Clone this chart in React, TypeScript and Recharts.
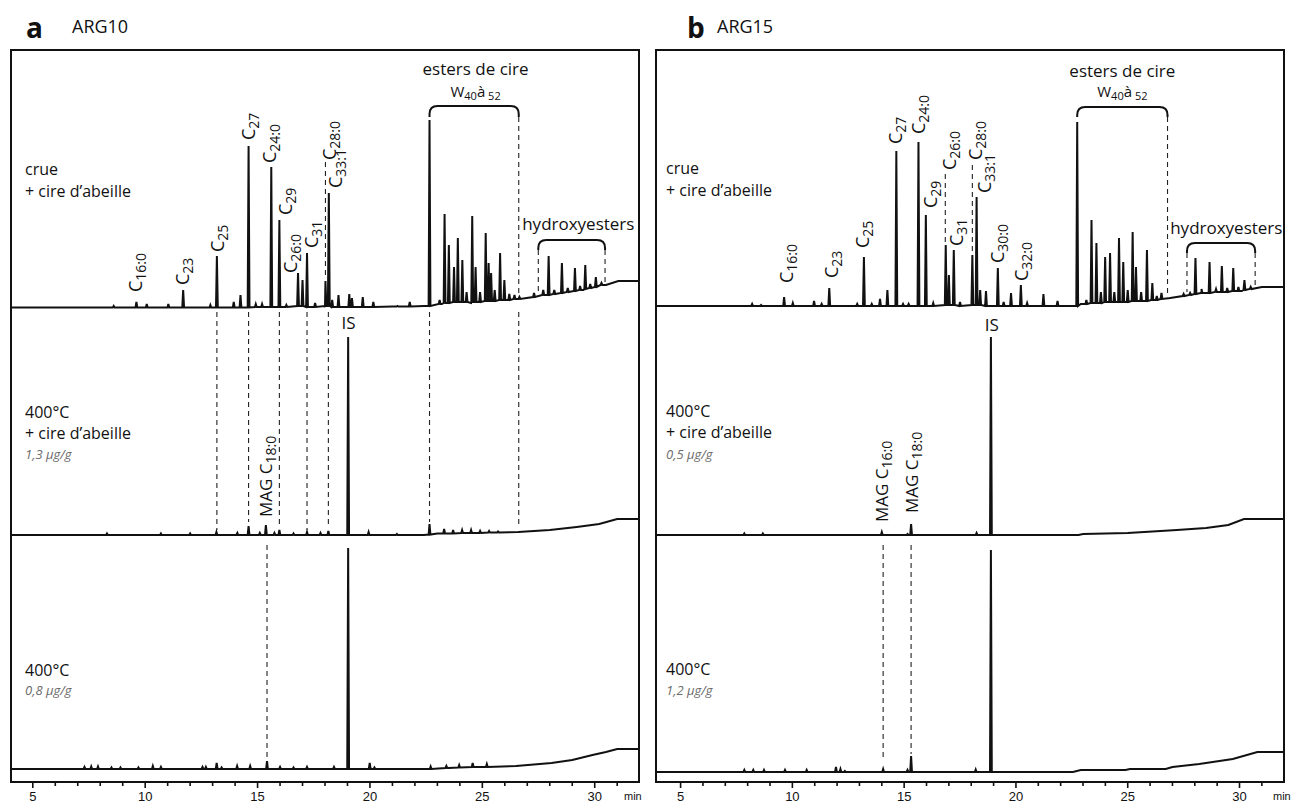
import React from 'react';
import { LineChart, Line, XAxis, YAxis, ReferenceLine, ReferenceArea, ReferenceDot } from 'recharts';

const FONT = '"Open Sans", "Noto Sans", sans-serif';
const INK = '#111';

// ---------- Axis ----------
const minuteTicks = [5, 6, 7, 8, 9, 10, 11, 12, 13, 14, 15, 16, 17, 18, 19, 20, 21, 22, 23, 24, 25, 26, 27, 28, 29, 30, 31];
const domainA: [number, number] = [4.03, 31.97];
const domainB: [number, number] = [3.9, 31.99];

// ---------- Panel a (ARG10) ----------
// trace 1: crue + cire d'abeille  [t, level]
const aRawBase = [[4.03, 4.5], [12, 4.5], [18, 5], [21, 5.5], [22.4, 6], [23.2, 8], [24.5, 9], [25.5, 11], [26.6, 13], [27.5, 16], [28.5, 19], [29.5, 22], [30.5, 27], [31.05, 31], [31.97, 31]];
// peaks [t, apex, foot]
const aRawPeaks = [[8.6, 6, 4.5], [9.61, 10, 4.5], [10.07, 8, 4.5], [11.03, 8, 4.5], [11.69, 22, 4.5], [12.9, 7, 4.5], [13.19, 56, 4.5], [13.94, 10, 4.5], [14.24, 17, 4.5], [14.6, 166, 4.5], [14.92, 8, 5], [15.2, 8, 5], [15.61, 145, 5], [15.97, 92, 5], [16.28, 7, 5], [16.8, 39, 6], [17.0, 32, 6], [17.2, 59, 5], [17.56, 9, 5], [18.02, 31, 6], [18.17, 119, 6], [18.32, 12, 5], [18.6, 17, 5], [19.08, 18, 5], [19.2, 14, 5], [19.68, 15, 5], [20.15, 10, 5], [21.22, 6, 5.5], [21.77, 10, 5.5], [22.65, 192, 6], [23.1, 12, 8], [23.32, 98, 9], [23.51, 67, 9], [23.74, 45, 10], [23.91, 74, 10], [24.11, 52, 10], [24.3, 20, 10], [24.55, 96, 10], [24.7, 45, 10], [24.9, 20, 10], [25.15, 79, 11], [25.28, 49, 11], [25.39, 39, 11], [25.55, 22, 11], [25.79, 59, 12], [25.98, 32, 12], [26.2, 18, 12], [26.43, 17, 13], [26.65, 15, 13], [27.3, 19, 15], [27.71, 22, 17], [27.95, 56, 17], [28.2, 22, 18], [28.54, 49, 19], [28.8, 24, 20], [29.12, 44, 21], [29.35, 26, 22], [29.58, 47, 23], [29.8, 28, 24], [30.05, 35, 25], [30.3, 29, 27]];
const aRawLabels = [
  { t: 9.61, v: 20, main: 'C', sub: '16:0' }, { t: 11.69, v: 27, main: 'C', sub: '23' }, { t: 13.25, v: 60, main: 'C', sub: '25' },
  { t: 14.6, v: 172, main: 'C', sub: '27' }, { t: 15.55, v: 149, main: 'C', sub: '24:0' }, { t: 16.25, v: 97, main: 'C', sub: '29' },
  { t: 16.5, v: 39, main: 'C', sub: '26:0' }, { t: 17.4, v: 64, main: 'C', sub: '31' }, { t: 18.22, v: 152, main: 'C', sub: '28:0' },
  { t: 18.5, v: 124, main: 'C', sub: '33:1' },
];
const aRawDashes = [[18.02, 150, 34], [26.62, 195, 14], [27.49, 62, 20], [30.46, 62, 30]];
const aRawBrackets = [[22.65, 26.62, 195, 206], [27.49, 30.46, 62, 72]];
const aRawNotes = [{ t: 24.7, v: 244, text: 'esters de cire' }, { t: 29.27, v: 89, text: 'hydroxyesters' }];
const aRangeNote = { t: 24.7, v: 220 };

// trace 2: 400°C + cire d'abeille
const aWaxBase = [[4.03, 5], [22.4, 5], [23, 6.5], [26.6, 8], [28, 10], [29.2, 13], [30.2, 16], [31.0, 21], [31.97, 21]];
const aWaxPeaks = [[8.3, 6.5, 5], [10.7, 6.5, 5], [12.0, 6.5, 5], [13.17, 8, 5], [14.1, 7, 5], [14.6, 14, 5], [15.1, 7, 5], [15.37, 15, 5], [15.75, 7, 5], [15.97, 10, 5], [16.6, 6.5, 5], [17.2, 8, 5], [17.8, 7, 5], [18.15, 9, 5], [19.03, 203, 5], [19.94, 8, 5], [21.2, 6, 5], [22.65, 16, 5.5], [23.3, 11, 6.5], [23.7, 10, 6.5], [24.1, 10, 7], [24.5, 10, 7], [24.9, 9, 7], [25.3, 9, 7.5], [25.7, 8.5, 7.5]];
const aWaxLabels = [{ t: 15.37, v: 23, main: 'MAG C', sub: '18:0' }];
const aWaxDashes = [[13.19, 228, 10], [14.6, 228, 18], [15.97, 228, 12], [17.2, 228, 10], [18.15, 228, 13], [22.65, 228, 18], [26.62, 228, 12]];
const aWaxNotes = [{ t: 19.05, v: 218, text: 'IS' }];

// trace 3: 400°C
const aHeatBase = [[4.03, 13], [21.9, 13], [23.5, 14], [25.15, 15], [26.5, 16], [28.08, 19], [29.0, 22], [29.9, 27], [30.5, 30], [31.0, 33], [31.97, 33]];
const aHeatPeaks = [[7.3, 15, 13], [7.6, 15.5, 13], [7.9, 15.5, 13], [8.5, 14.5, 13], [8.9, 14.5, 13], [9.7, 14.5, 13], [10.34, 16, 13], [10.7, 15, 13], [12.55, 15, 13], [12.7, 15, 13], [13.18, 19, 13], [13.4, 14.5, 13], [14.09, 16, 13], [14.67, 16, 13], [15.42, 21, 13], [16.0, 15, 13], [16.6, 14.5, 13], [17.2, 15, 13], [18.4, 15, 13], [19.03, 234, 13], [19.99, 19, 13], [20.2, 14.5, 13], [22.7, 15.5, 13], [23.4, 16, 14], [23.97, 17, 14.5], [24.57, 19, 15], [25.2, 18, 15]];
const aHeatDashes = [[15.42, 237, 23]];

// ---------- Panel b (ARG15) ----------
const bRawBase = [[3.9, 6], [22.4, 6], [22.9, 8], [24.5, 10], [25.5, 11], [26.9, 14], [28.3, 19], [30.1, 21], [31.0, 25], [31.99, 25]];
const bRawPeaks = [[8.2, 8, 6], [8.6, 7, 6], [9.63, 15, 6], [10.02, 9, 6], [10.97, 11, 6], [11.31, 8, 6], [11.65, 24, 6], [12.9, 8, 6], [13.2, 55, 6], [13.55, 8, 6], [13.92, 13, 6], [14.25, 22, 6], [14.65, 161, 6], [14.95, 8, 6], [15.2, 8, 6], [15.64, 170, 6], [15.97, 97, 6], [16.3, 9, 6], [16.86, 67, 7], [17.0, 37, 7], [17.22, 62, 7], [17.5, 10, 6], [18.05, 57, 7], [18.24, 115, 7], [18.4, 22, 7], [18.66, 21, 6], [19.19, 44, 6], [19.45, 10, 6], [19.78, 19, 6], [20.22, 27, 6], [20.5, 9, 6], [21.23, 18, 6], [21.86, 11, 6], [22.74, 190, 6], [23.15, 12, 8], [23.38, 92, 9], [23.6, 69, 9], [23.8, 20, 9], [23.99, 55, 10], [24.21, 59, 10], [24.4, 20, 10], [24.61, 74, 10], [24.8, 50, 10], [25.0, 22, 10], [25.22, 80, 11], [25.37, 45, 11], [25.6, 20, 11], [25.86, 62, 11], [26.1, 29, 12], [26.3, 16, 12], [26.51, 19, 13], [27.5, 18, 16], [27.79, 19, 17], [28.03, 54, 18], [28.3, 23, 19], [28.66, 50, 19], [28.95, 23, 20], [29.21, 46, 20], [29.45, 24, 20], [29.72, 44, 21], [29.95, 25, 21], [30.22, 32, 22], [30.5, 25, 23]];
const bRawLabels = [
  { t: 9.75, v: 29, main: 'C', sub: '16:0' }, { t: 11.75, v: 34, main: 'C', sub: '23' }, { t: 13.15, v: 64, main: 'C', sub: '25' },
  { t: 14.63, v: 168, main: 'C', sub: '27' }, { t: 15.68, v: 178, main: 'C', sub: '24:0' }, { t: 16.18, v: 104, main: 'C', sub: '29' },
  { t: 17.03, v: 142, main: 'C', sub: '26:0' }, { t: 17.38, v: 66, main: 'C', sub: '31' }, { t: 18.2, v: 152, main: 'C', sub: '28:0' },
  { t: 18.62, v: 119, main: 'C', sub: '33:1' }, { t: 19.2, v: 49, main: 'C', sub: '30:0' }, { t: 20.25, v: 31, main: 'C', sub: '32:0' },
];
const bRawDashes = [[16.84, 138, 70], [18.05, 147, 60], [26.78, 195, 16], [27.65, 59, 20], [30.7, 59, 25]];
const bRawBrackets = [[22.74, 26.78, 195, 205], [27.65, 30.7, 59, 69]];
const bRawNotes = [{ t: 24.76, v: 242, text: 'esters de cire' }, { t: 29.41, v: 85, text: 'hydroxyesters' }];
const bRangeNote = { t: 24.76, v: 220 };

const bWaxBase = [[3.9, 5], [22.8, 5], [23.0, 6], [25.0, 7], [27.2, 10], [28.5, 12], [29.5, 15], [30.2, 21], [31.99, 21]];
const bWaxPeaks = [[7.85, 6.5, 5], [8.68, 6.5, 5], [14.0, 8, 5], [15.15, 6, 5], [15.31, 16, 5], [18.24, 7, 5], [18.88, 203, 5]];
const bWaxLabels = [{ t: 14.0, v: 18, main: 'MAG C', sub: '16:0' }, { t: 15.35, v: 27, main: 'MAG C', sub: '18:0' }];
const bWaxNotes = [{ t: 18.92, v: 216, text: 'IS' }];

const bHeatBase = [[3.9, 10], [22.55, 10], [22.9, 12], [24.9, 12], [25.1, 13], [26.7, 13], [27.0, 15], [28.2, 18], [29.7, 23], [30.8, 30], [31.99, 30]];
const bHeatPeaks = [[7.85, 12, 10], [8.25, 12, 10], [8.73, 12, 10], [9.67, 12, 10], [10.64, 12, 10], [11.95, 15, 10], [12.15, 13, 10], [12.35, 11, 10], [14.06, 13, 10], [15.15, 12, 10], [15.31, 26, 10], [18.2, 12.5, 10], [18.88, 232, 10]];
const bHeatDashes = [[14.06, 237, 24], [15.31, 237, 28]];

// ---------- helpers ----------
type Pt = { t: number; v: number };
function buildTrace(base: number[][], peaks: number[][]): Pt[] {
  const half = 0.04;
  const pts: Pt[] = [];
  base.forEach(([t, v]) => pts.push({ t, v }));
  peaks.forEach(([t, top, foot]) => {
    pts.push({ t: t - half, v: foot });
    pts.push({ t, v: top });
    pts.push({ t: t + half, v: foot });
  });
  pts.sort((p, q) => p.t - q.t);
  return pts;
}

const rotLabel = (main: string, sub: string) => (p: any) => (
  <text transform={`rotate(-90 ${p.cx + 6} ${p.cy})`} x={p.cx + 6} y={p.cy} fontFamily={FONT} fontSize={main.length > 1 ? 17 : 18} fill={INK}>
    <tspan>{main}</tspan>
    <tspan fontSize={14} dy={4}>{sub}</tspan>
  </text>
);

const hText = (text: string, size: number) => (p: any) => (
  <text x={p.cx} y={p.cy} textAnchor="middle" dominantBaseline="central" fontFamily={FONT} fontSize={size} fill={INK}>{text}</text>
);

const rangeText = (p: any) => (
  <text x={p.cx} y={p.cy + 5} textAnchor="middle" fontFamily={FONT} fontSize={15} fill={INK}>
    <tspan>W</tspan>
    <tspan fontSize={11} dy={3}>40</tspan>
    <tspan fontSize={15} dy={-3}>à</tspan>
    <tspan fontSize={11} dy={3}> 52</tspan>
  </text>
);

const bracketShape = (p: any) => {
  const { x, y, width: w, height: h } = p;
  const r = 8;
  const d = `M${x},${y + h} L${x},${y + r} Q${x},${y} ${x + r},${y} L${x + w - r},${y} Q${x + w},${y} ${x + w},${y + r} L${x + w},${y + h}`;
  return <path d={d} fill="none" stroke={INK} strokeWidth={2} />;
};

const AxisTick = (props: any) => {
  const { x, y, payload } = props;
  const major = payload.value % 5 === 0;
  return (
    <g>
      <line x1={x} x2={x} y1={y} y2={y + (major ? 6 : 4)} stroke={INK} strokeWidth={1.6} />
      {major && (
        <text x={x} y={y + 19} textAnchor="middle" fontSize={13} fontFamily='"Liberation Sans Narrow", "Liberation Sans", Arial, sans-serif' fill={INK}>{payload.value}</text>
      )}
    </g>
  );
};

const PLOT_W = 628;

type TraceProps = {
  base: number[][];
  peaks: number[][];
  domain: [number, number];
  height: number;
  yMax: number;
  axis?: boolean;
  dashes?: number[][];
  brackets?: number[][];
  labels?: { t: number; v: number; main: string; sub: string }[];
  notes?: { t: number; v: number; text: string }[];
  range?: { t: number; v: number };
};

function Trace({ base, peaks, domain, height, yMax, axis, dashes = [], brackets = [], labels = [], notes = [], range }: TraceProps) {
  const data = buildTrace(base, peaks);
  return (
    <LineChart width={PLOT_W} height={height} data={data} margin={{ top: 0, right: 0, bottom: 0, left: 0 }}>
      <XAxis
        type="number"
        dataKey="t"
        domain={domain}
        allowDataOverflow
        hide={!axis}
        ticks={minuteTicks}
        interval={0}
        axisLine={false}
        tickLine={false}
        tickSize={0}
        tickMargin={0}
        height={axis ? 23 : 0}
        tick={<AxisTick />}
      />
      <YAxis type="number" domain={[0, yMax]} hide allowDataOverflow />
      {dashes.map(([t, v1, v2], i) => (
        <ReferenceLine key={'d' + i} segment={[{ x: t, y: v1 }, { x: t, y: v2 }]} stroke="#222" strokeWidth={1.1} strokeDasharray="5 4" ifOverflow="visible" />
      ))}
      {brackets.map(([x1, x2, y1, y2], i) => (
        <ReferenceArea key={'b' + i} x1={x1} x2={x2} y1={y1} y2={y2} shape={bracketShape} ifOverflow="visible" />
      ))}
      <Line type="linear" dataKey="v" stroke={INK} strokeWidth={2} dot={false} isAnimationActive={false} />
      {labels.map((l, i) => (
        <ReferenceDot key={'l' + i} x={l.t} y={l.v} r={0} shape={rotLabel(l.main, l.sub)} ifOverflow="visible" />
      ))}
      {notes.map((n, i) => (
        <ReferenceDot key={'n' + i} x={n.t} y={n.v} r={0} shape={hText(n.text, 17)} ifOverflow="visible" />
      ))}
      {range && <ReferenceDot x={range.t} y={range.v} r={0} shape={rangeText} ifOverflow="visible" />}
    </LineChart>
  );
}

const abs = (left: number, top: number): React.CSSProperties => ({ position: 'absolute', left, top });

function Panel({ left, domain, raw, wax, heat }: any) {
  return (
    <>
      <div style={abs(left, 50)}>
        <Trace domain={domain} height={262} yMax={262} {...raw} />
      </div>
      <div style={abs(left, 312)}>
        <Trace domain={domain} height={228} yMax={228} {...wax} />
      </div>
      <div style={abs(left, 540)}>
        <Trace domain={domain} height={265} yMax={242} axis {...heat} />
      </div>
      <div style={{ position: 'absolute', left: left - 1, top: 49, width: PLOT_W + 2, height: 734, border: `2px solid ${INK}`, boxSizing: 'border-box', pointerEvents: 'none' }} />
    </>
  );
}

export default function App() {
  const txt = { fontFamily: FONT, fill: INK } as any;
  const note = { fontFamily: FONT, fill: '#6b6b6b', fontStyle: 'italic' } as any;
  return (
    <div style={{ position: 'absolute', left: 0, top: 0, width: 1291, height: 805, background: '#fff', overflow: 'hidden' }}>
      <Panel
        left={11}
        domain={domainA}
        raw={{ base: aRawBase, peaks: aRawPeaks, labels: aRawLabels, dashes: aRawDashes, brackets: aRawBrackets, notes: aRawNotes, range: aRangeNote }}
        wax={{ base: aWaxBase, peaks: aWaxPeaks, labels: aWaxLabels, dashes: aWaxDashes, notes: aWaxNotes }}
        heat={{ base: aHeatBase, peaks: aHeatPeaks, dashes: aHeatDashes }}
      />
      <Panel
        left={656}
        domain={domainB}
        raw={{ base: bRawBase, peaks: bRawPeaks, labels: bRawLabels, dashes: bRawDashes, brackets: bRawBrackets, notes: bRawNotes, range: bRangeNote }}
        wax={{ base: bWaxBase, peaks: bWaxPeaks, labels: bWaxLabels, notes: bWaxNotes }}
        heat={{ base: bHeatBase, peaks: bHeatPeaks, dashes: bHeatDashes }}
      />
      <svg width={1291} height={805} style={{ position: 'absolute', left: 0, top: 0, pointerEvents: 'none' }}>
        <text x={26} y={38} fontSize={28} fontWeight={700} {...txt}>a</text>
        <text x={72} y={33} fontSize={18} {...txt}>ARG10</text>
        <text x={687} y={38} fontSize={28} fontWeight={700} {...txt}>b</text>
        <text x={717} y={33} fontSize={18} {...txt}>ARG15</text>

        <text x={25} y={175} fontSize={16} {...txt}>crue</text>
        <text x={25} y={197} fontSize={16} {...txt}>+ cire d’abeille</text>
        <text x={25} y={418} fontSize={16} {...txt}>400°C</text>
        <text x={25} y={439} fontSize={16} {...txt}>+ cire d’abeille</text>
        <text x={25} y={459} fontSize={13} {...note}>1,3 µg/g</text>
        <text x={25} y={676} fontSize={16} {...txt}>400°C</text>
        <text x={25} y={695} fontSize={13} {...note}>0,8 µg/g</text>

        <text x={666} y={174} fontSize={16} {...txt}>crue</text>
        <text x={666} y={196} fontSize={16} {...txt}>+ cire d’abeille</text>
        <text x={666} y={417} fontSize={16} {...txt}>400°C</text>
        <text x={666} y={438} fontSize={16} {...txt}>+ cire d’abeille</text>
        <text x={666} y={459} fontSize={13} {...note}>0,5 µg/g</text>
        <text x={666} y={675} fontSize={16} {...txt}>400°C</text>
        <text x={666} y={695} fontSize={13} {...note}>1,2 µg/g</text>

        <text x={624} y={800} fontSize={11} fontFamily='"Liberation Sans", Arial, sans-serif' fill={INK}>min</text>
        <text x={1273} y={800} fontSize={11} fontFamily='"Liberation Sans", Arial, sans-serif' fill={INK}>min</text>
      </svg>
    </div>
  );
}
